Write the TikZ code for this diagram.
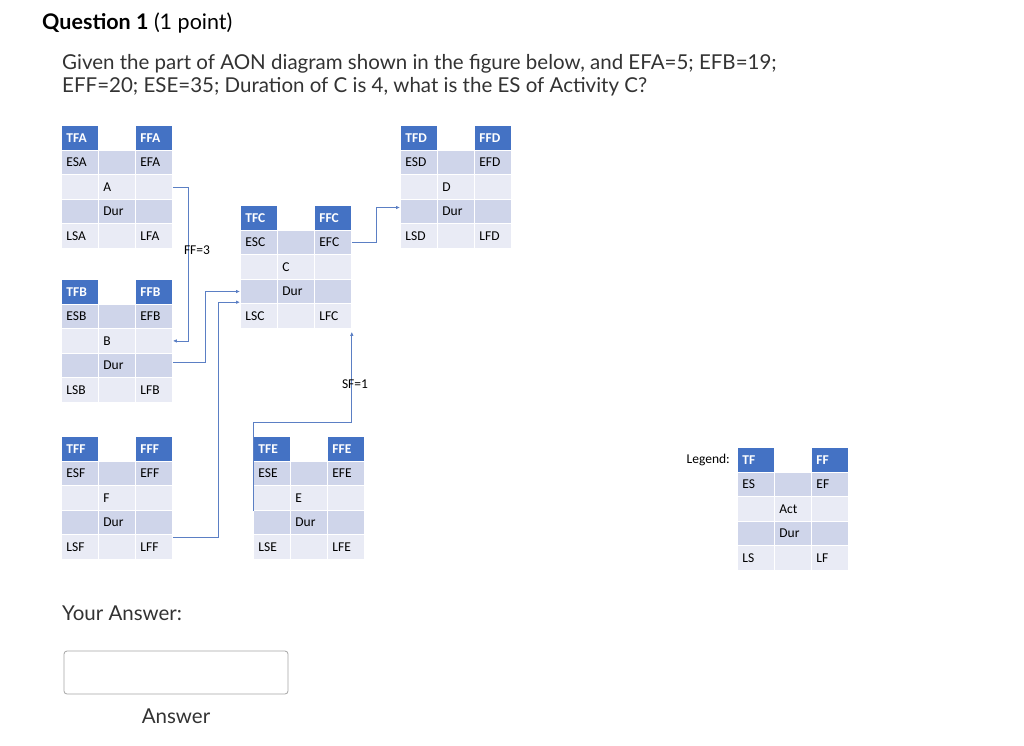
\documentclass[tikz,border=0pt]{standalone}
\usepackage{fontspec}
\setmainfont{Lato}
\newfontfamily\carl{Carlito}
\usetikzlibrary{arrows.meta}
\definecolor{hdr}{HTML}{4472C4}
\definecolor{dk}{HTML}{CFD5EA}
\definecolor{lt}{HTML}{E9EBF5}
\definecolor{ln}{HTML}{5B7FC4}
\tikzset{cell/.style={anchor=north west,inner xsep=5pt,inner ysep=0pt,text width=27pt,minimum height=24.6pt,align=left,draw=white,line width=0.8pt,font=\carl\fontsize{13.5}{13.5}\selectfont},
hd/.style={cell,fill=hdr,text=white,font=\carl\bfseries\fontsize{13.5}{13.5}\selectfont},
conn/.style={ln,line width=0.8pt,-{Latex[length=4pt,width=3.5pt]}},
lbl/.style={font=\carl\fontsize{13.5}{13.5}\selectfont,inner sep=0pt}}
\newcommand\aon[5]{%
\node[hd] (#1-11) at (#2,-#3) {TF#4};
\node[cell,draw=none] (#1-12) at (#2+37,-#3) {};
\node[hd] (#1-13) at (#2+74,-#3) {FF#4};
\node[cell,fill=dk] (#1-21) at (#2,-#3-24.6) {ES#4};
\node[cell,fill=dk] (#1-22) at (#2+37,-#3-24.6) {};
\node[cell,fill=dk] (#1-23) at (#2+74,-#3-24.6) {EF#4};
\node[cell,fill=lt] (#1-31) at (#2,-#3-49.2) {};
\node[cell,fill=lt] (#1-32) at (#2+37,-#3-49.2) {#5};
\node[cell,fill=lt] (#1-33) at (#2+74,-#3-49.2) {};
\node[cell,fill=dk] (#1-41) at (#2,-#3-73.8) {};
\node[cell,fill=dk] (#1-42) at (#2+37,-#3-73.8) {Dur};
\node[cell,fill=dk] (#1-43) at (#2+74,-#3-73.8) {};
\node[cell,fill=lt] (#1-51) at (#2,-#3-98.4) {LS#4};
\node[cell,fill=lt] (#1-52) at (#2+37,-#3-98.4) {};
\node[cell,fill=lt] (#1-53) at (#2+74,-#3-98.4) {LF#4};}
\begin{document}
\begin{tikzpicture}[x=1pt,y=1pt]
\useasboundingbox[fill=white] (0,0) rectangle (1024,-745);
\node[anchor=base west,inner sep=0,font=\fontsize{21.5}{21.5}\selectfont] (title) at (42,-29) {\textbf{Question 1} (1 point)};
\node[anchor=north west,inner sep=0,align=left,text=black!80,font=\fontsize{20.5}{23}\selectfont] (q) at (62,-54) {Given the part of AON diagram shown in the figure below, and EFA=5; EFB=19;\\EFF=20; ESE=35; Duration of C is 4, what is the ES of Activity C?};
\aon{A}{61}{125}{A}{A}
\aon{B}{61}{279}{B}{B}
\aon{C}{240}{205}{C}{C}
\aon{D}{400}{125}{D}{D}
\aon{E}{253}{436}{E}{E}
\aon{F}{61}{436}{F}{F}
\aon{L}{737}{447}{}{Act}
\node[lbl,anchor=east] (leg) at (730,-460) {Legend:};
\draw[conn] (A-33.east) -- ++(16,0) |- (B-33.east);
\draw[conn] ([yshift=-10]B-43.north east) -- ++(33,0) |- (C-41.west);
\draw[conn] ([yshift=-2]F-43.south east) -- ++(46,0) |- ([yshift=2]C-41.south west);
\draw[conn] (E-31.south west) -- ++(0,88) -| ([yshift=-3]C-53.south east);
\draw[conn] (C-23.east) -- ++(25,0) |- ([yshift=4]D-41.west);
\node[lbl] (ff3) at (197,-250) {FF=3};
\node[lbl] (sf1) at (355,-384) {SF=1};
\node[anchor=base west,inner sep=0,text=black!80,font=\fontsize{20.5}{20.5}\selectfont] (ya) at (62,-620) {Your Answer:};
\draw[black!35,rounded corners=3pt,line width=0.8pt] (64,-651) rectangle (288,-694);
\node[anchor=base,inner sep=0,text=black!80,font=\fontsize{20.5}{20.5}\selectfont] (ans) at (176,-723) {Answer};
\end{tikzpicture}
\end{document}
